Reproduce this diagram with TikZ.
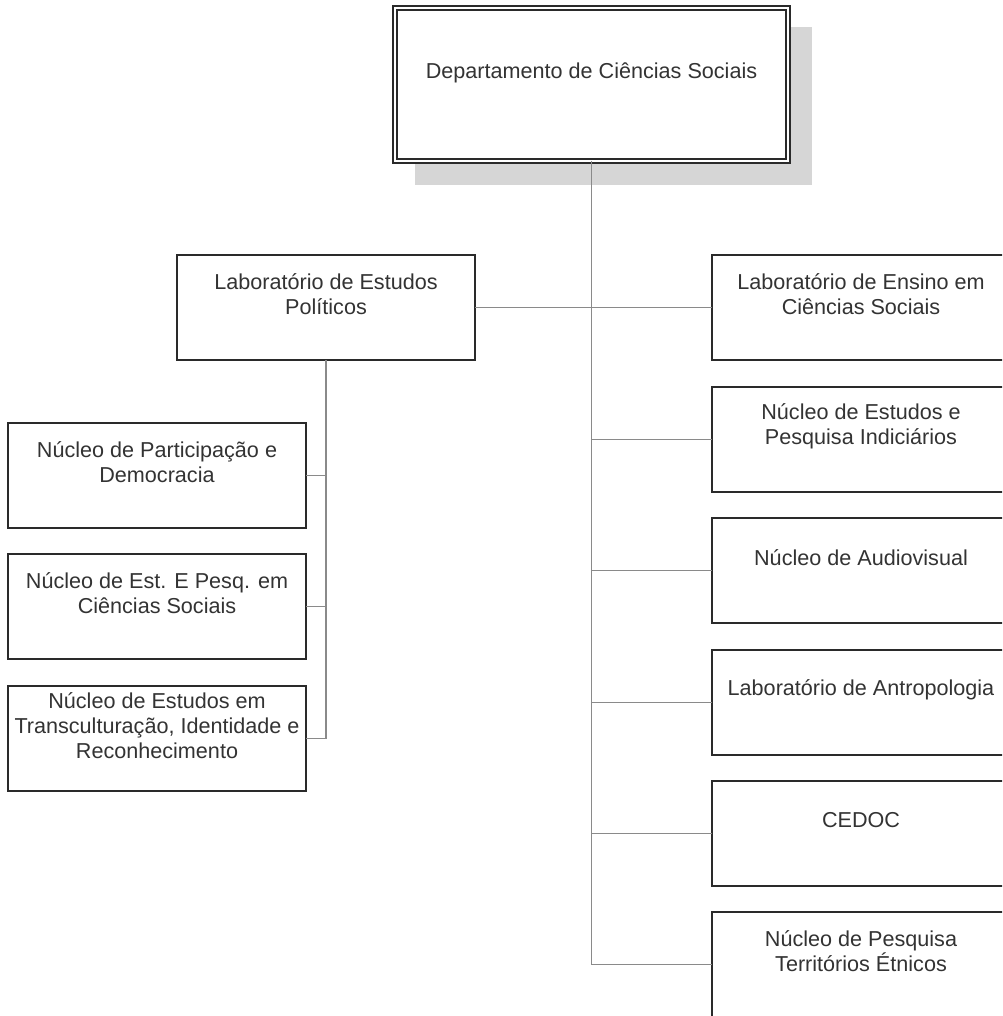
\documentclass[tikz,border=0pt]{standalone}
\usepackage{fontspec}
\setmainfont{Liberation Sans}
\definecolor{boxline}{HTML}{2A2A2A}
\definecolor{conn}{HTML}{8A8A8A}
\definecolor{txtc}{HTML}{333333}
\definecolor{shadowc}{HTML}{D6D6D6}
\begin{document}
\begin{tikzpicture}[x=0.75pt,y=-0.75pt,
  box/.style={draw=boxline, line width=1.9pt, fill=white, rectangle, inner sep=0pt, outer sep=0pt,
    minimum width=223.5pt, minimum height=78.75pt, anchor=north west},
  topbox/.style={draw=boxline, double=white, double distance=2pt, line width=1.3pt, fill=white, rectangle,
    inner sep=0pt, outer sep=0pt, minimum width=294.75pt, minimum height=114.75pt, anchor=north west},
  conn/.style={draw=conn, line width=1.3pt},
  txt/.style={font=\fontsize{16.2pt}{18.8pt}\selectfont, text=txtc, align=center, inner sep=0pt}]
\useasboundingbox (0,0) rectangle (1002,1016);
\clip (0,0) rectangle (1002,1016);
% shadow and top box
\fill[shadowc] (415,27) rectangle (812,185);
\node[topbox] (dep) at (395,8) {};
\node[txt] (tdep) at (591.5,73) {Departamento de Ciências Sociais};
% boxes
\node[box] (lep) at (177,255) {};
\node[box] (r1) at (712,255) {};
\node[box] (r2) at (712,387) {};
\node[box] (r3) at (712,518) {};
\node[box] (r4) at (712,650) {};
\node[box] (r5) at (712,781) {};
\node[box] (r6) at (712,912) {};
\node[box] (l1) at (8,423) {};
\node[box] (l2) at (8,554) {};
\node[box] (l3) at (8,686) {};
% connectors
\draw[conn] (dep.south) -- (dep.south |- r6.west);
\draw[conn] (lep.east) -- (r1.west);
\foreach \r in {r2,r3,r4,r5,r6}{
  \draw[conn] (dep.south |- \r.west) -- (\r.west);
}
\draw[conn] (lep.south) -- (lep.south |- l3.east);
\foreach \l in {l1,l2,l3}{
  \draw[conn] (lep.south |- \l.east) -- (\l.east);
}
% texts
\node[txt] (tlep) at ([yshift=-29.5pt]lep.north) {Laboratório de Estudos\\Políticos};
\node[txt] (tr1) at ([yshift=-29.5pt]r1.north) {Laboratório de Ensino em\\Ciências Sociais};
\node[txt] (tr2) at ([yshift=-29.5pt]r2.north) {Núcleo de Estudos e\\Pesquisa Indiciários};
\node[txt] (tr3) at ([yshift=-29.5pt]r3.north) {Núcleo de Audiovisual};
\node[txt] (tr4) at ([yshift=-29.5pt]r4.north) {Laboratório de Antropologia};
\node[txt] (tr5) at ([yshift=-29.5pt]r5.north) {CEDOC};
\node[txt] (tr6) at ([yshift=-29.5pt]r6.north) {Núcleo de Pesquisa\\Territórios Étnicos};
\node[txt] (tl1) at ([yshift=-29.5pt]l1.north) {Núcleo de Participação e\\Democracia};
\node[txt] (tl2) at ([yshift=-29.5pt]l2.north) {Núcleo de Est. E Pesq. em\\Ciências Sociais};
\node[txt] (tl3) at ([yshift=-30pt]l3.north) {Núcleo de Estudos em\\Transculturação, Identidade e\\Reconhecimento};
\end{tikzpicture}
\end{document}
